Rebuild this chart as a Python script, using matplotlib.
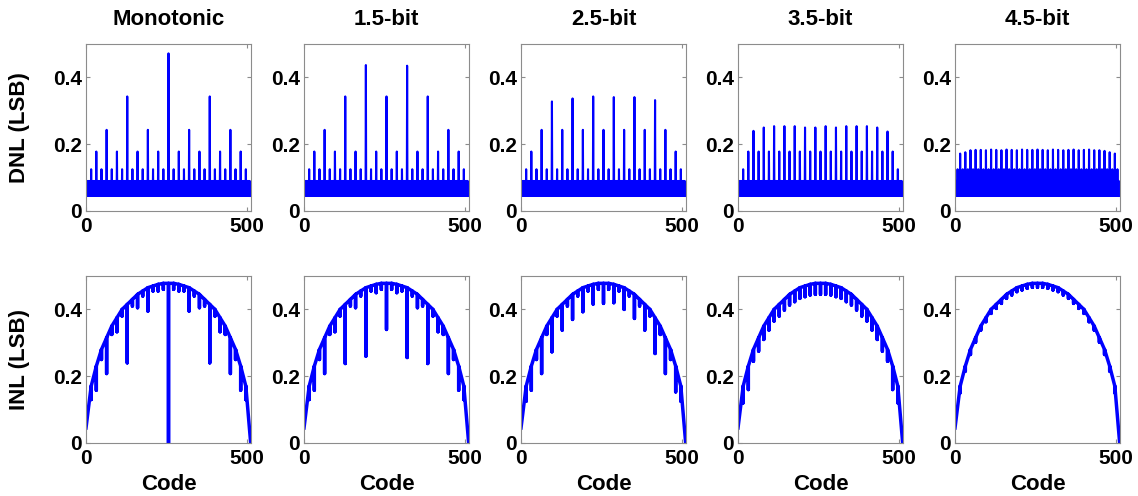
import numpy as np
import matplotlib
matplotlib.use("Agg")
import matplotlib.pyplot as plt

# ---------------- data ----------------
titles = ["Monotonic", "1.5-bit", "2.5-bit", "3.5-bit", "4.5-bit"]
n_codes = 512
block = 16

# DNL inside each 16-code block (offsets 1..15); offset 0 is given by the spike lists
dnl_band_binary = [0.045, 0.045, 0.062, 0.045, 0.09, 0.045, 0.062, 0.045,
                   0.09, 0.045, 0.062, 0.045, 0.09, 0.045, 0.062, 0.045]
dnl_band_45bit = [0.045, 0.045, 0.062, 0.045, 0.09, 0.045, 0.062, 0.045,
                  0.125, 0.045, 0.062, 0.045, 0.09, 0.045, 0.062, 0.045]

# DNL at codes 0, 16, 32, ..., 496
dnl_spk_mono = [0.045, 0.125, 0.178, 0.125, 0.243, 0.125, 0.178, 0.125, 0.343,
                0.125, 0.178, 0.125, 0.243, 0.125, 0.178, 0.125, 0.472,
                0.125, 0.178, 0.125, 0.243, 0.125, 0.178, 0.125, 0.343,
                0.125, 0.178, 0.125, 0.243, 0.125, 0.178, 0.125]
dnl_spk_15 = [0.045, 0.125, 0.178, 0.125, 0.243, 0.125, 0.178, 0.125, 0.343,
              0.125, 0.178, 0.125, 0.437, 0.125, 0.178, 0.125, 0.343,
              0.125, 0.178, 0.125, 0.435, 0.125, 0.178, 0.125, 0.343,
              0.125, 0.178, 0.125, 0.243, 0.125, 0.178, 0.125]
dnl_spk_25 = [0.045, 0.125, 0.178, 0.125, 0.243, 0.125, 0.328, 0.125, 0.243,
              0.125, 0.337, 0.125, 0.243, 0.125, 0.343, 0.125, 0.243,
              0.125, 0.341, 0.125, 0.243, 0.125, 0.341, 0.125, 0.243,
              0.125, 0.332, 0.125, 0.243, 0.125, 0.178, 0.125]
dnl_spk_35 = [0.045, 0.125, 0.178, 0.240, 0.178, 0.250, 0.178, 0.254, 0.178,
              0.254, 0.178, 0.254, 0.178, 0.250, 0.178, 0.250, 0.178,
              0.254, 0.178, 0.250, 0.178, 0.254, 0.178, 0.254, 0.178,
              0.254, 0.178, 0.250, 0.178, 0.238, 0.178, 0.125]
dnl_spk_45 = [0.045, 0.172, 0.176, 0.182, 0.183, 0.183, 0.182, 0.184, 0.183,
              0.182, 0.184, 0.183, 0.182, 0.184, 0.183, 0.183, 0.184,
              0.183, 0.182, 0.184, 0.183, 0.182, 0.183, 0.184, 0.182,
              0.183, 0.184, 0.182, 0.182, 0.180, 0.176, 0.172]

# INL envelope at codes 0, 16, ..., 496 and at the last code 511
inl_env = [0.045, 0.17, 0.23, 0.28, 0.315, 0.35, 0.375, 0.40, 0.415, 0.43,
           0.445, 0.455, 0.465, 0.47, 0.475, 0.478, 0.478, 0.478, 0.475, 0.47,
           0.465, 0.455, 0.445, 0.43, 0.415, 0.40, 0.375, 0.35, 0.315, 0.28,
           0.23, 0.17, 0.0]

# INL dips at codes 16, 32, ..., 496
inl_dip_mono = [0.13, 0.158, 0.25, 0.208, 0.325, 0.333, 0.38, 0.24, 0.41,
                0.405, 0.44, 0.395, 0.455, 0.455, 0.46, 0.0, 0.46, 0.455,
                0.455, 0.395, 0.44, 0.405, 0.41, 0.24, 0.38, 0.333, 0.325,
                0.208, 0.25, 0.158, 0.13]
inl_dip_15 = [0.13, 0.158, 0.25, 0.208, 0.325, 0.333, 0.38, 0.238, 0.41,
              0.405, 0.44, 0.26, 0.455, 0.45, 0.46, 0.34, 0.46, 0.45,
              0.455, 0.256, 0.44, 0.405, 0.41, 0.238, 0.38, 0.333, 0.325,
              0.208, 0.25, 0.158, 0.13]
inl_dip_25 = [0.125, 0.158, 0.25, 0.208, 0.325, 0.273, 0.38, 0.338, 0.41,
              0.37, 0.44, 0.393, 0.455, 0.416, 0.46, 0.418, 0.46, 0.42,
              0.455, 0.40, 0.44, 0.373, 0.41, 0.338, 0.38, 0.268, 0.325,
              0.208, 0.25, 0.153, 0.125]
inl_dip_35 = [0.12, 0.16, 0.245, 0.275, 0.31, 0.338, 0.365, 0.38, 0.398,
              0.413, 0.423, 0.433, 0.438, 0.443, 0.445, 0.445, 0.445, 0.443,
              0.438, 0.433, 0.423, 0.413, 0.398, 0.38, 0.365, 0.338, 0.31,
              0.275, 0.245, 0.16, 0.12]
inl_dip_45 = [0.15, 0.215, 0.265, 0.302, 0.338, 0.363, 0.388, 0.403, 0.418,
              0.433, 0.443, 0.453, 0.458, 0.463, 0.466, 0.466, 0.466, 0.463,
              0.458, 0.453, 0.443, 0.433, 0.418, 0.403, 0.388, 0.363, 0.338,
              0.302, 0.265, 0.215, 0.15]

dnl_spikes = [dnl_spk_mono, dnl_spk_15, dnl_spk_25, dnl_spk_35, dnl_spk_45]
dnl_bands = [dnl_band_binary, dnl_band_binary, dnl_band_binary, dnl_band_binary, dnl_band_45bit]
inl_dips = [inl_dip_mono, inl_dip_15, inl_dip_25, inl_dip_35, inl_dip_45]

y_ticks = [0, 0.2, 0.4]
y_ticklabels = ["0", "0.2", "0.4"]
x_ticks = [0, 500]
x_ticklabels = ["0", "500"]

# ---------------- figure ----------------
plt.rcParams["font.family"] = ["Liberation Sans", "DejaVu Sans"]
plt.rcParams["font.weight"] = "bold"

W, H = 1138, 496
fig = plt.figure(figsize=(W / 100, H / 100), dpi=100)
fig.patch.set_facecolor("white")

col_left = [86, 304, 521, 738, 955]
ax_w = 165
row_top = [44, 276]
ax_h = 167
blue = (0, 0, 1)
spine_col = "#8c8c8c"


def style(ax, ylabel=None, xlabel=None):
    ax.set_xlim(0, 512)
    ax.set_ylim(0, 0.5)
    ax.set_xticks(x_ticks)
    ax.set_xticklabels(x_ticklabels)
    ax.set_yticks(y_ticks)
    ax.set_yticklabels(y_ticklabels)
    ax.tick_params(direction="in", length=3, width=0.8, color=spine_col,
                   top=True, right=True, labelsize=15, pad=3)
    ax.tick_params(axis="x", pad=4)
    for lab in ax.get_xticklabels() + ax.get_yticklabels():
        lab.set_fontweight("bold")
    for sp in ax.spines.values():
        sp.set_color(spine_col)
        sp.set_linewidth(0.8)
    if ylabel:
        ax.set_ylabel(ylabel, fontsize=16, fontweight="bold")
        ax.yaxis.set_label_coords(-0.40, 0.5)
        ax.yaxis.label.set_va("center")
    if xlabel:
        ax.set_xlabel(xlabel, fontsize=16, fontweight="bold")
        ax.xaxis.set_label_coords(0.5, -0.25)
        ax.xaxis.label.set_va("center")


for c in range(5):
    # DNL
    ax = fig.add_axes([col_left[c] / W, 1 - (row_top[0] + ax_h) / H, ax_w / W, ax_h / H])
    codes = np.arange(n_codes)
    band = dnl_bands[c]
    spikes = dnl_spikes[c]
    dnl = np.array([spikes[k // block] if k % block == 0 else band[k % block]
                    for k in codes])
    ax.plot(codes, dnl, color=blue, lw=1.5)
    style(ax, ylabel="DNL (LSB)" if c == 0 else None)
    ax.text(0.5, 1.145, titles[c], transform=ax.transAxes, ha="center",
            va="center", fontsize=16, fontweight="bold")

    # INL
    ax2 = fig.add_axes([col_left[c] / W, 1 - (row_top[1] + ax_h) / H, ax_w / W, ax_h / H])
    env_codes = list(range(0, n_codes, block)) + [n_codes - 1]
    xs = [env_codes[0]]
    ys = [inl_env[0]]
    dips = inl_dips[c]
    for j in range(1, n_codes // block):
        xs += [env_codes[j]] * 3
        ys += [inl_env[j], dips[j - 1], inl_env[j]]
    xs.append(env_codes[-1])
    ys.append(inl_env[-1])
    ax2.plot(xs, ys, color=blue, lw=2.5)
    style(ax2, ylabel="INL (LSB)" if c == 0 else None, xlabel="Code")

fig.savefig("out.png", dpi=100, facecolor="white")
